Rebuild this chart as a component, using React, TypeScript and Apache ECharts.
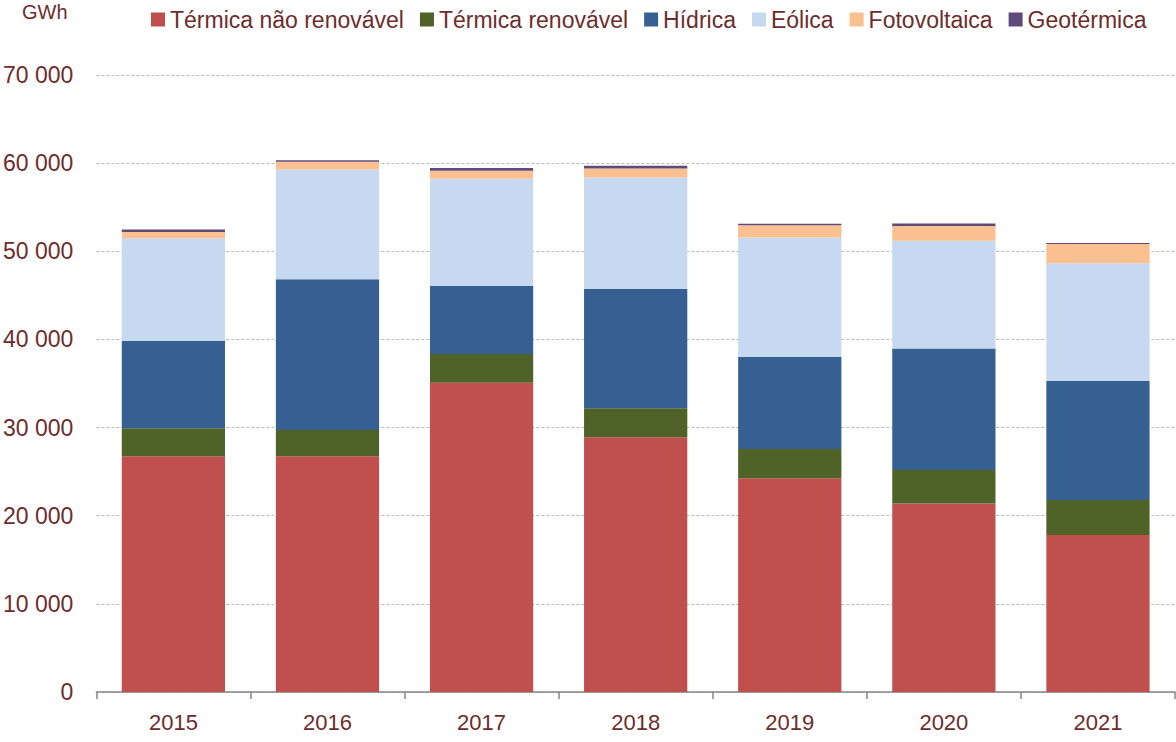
import React, { useEffect, useRef } from "react";
import * as echarts from "echarts";

const years = ["2015", "2016", "2017", "2018", "2019", "2020", "2021"];
const termicaNaoRenovavel = [26760, 26760, 35080, 28900, 24260, 21390, 17800];
const termicaRenovavel = [3160, 2970, 3280, 3290, 3320, 3790, 3970];
const hidrica = [9930, 17100, 7710, 13550, 10460, 13800, 13530];
const eolica = [11620, 12460, 12160, 12640, 13510, 12220, 13330];
const fotovoltaica = [710, 860, 910, 1020, 1390, 1660, 2200];
const geotermica = [300, 190, 300, 300, 190, 300, 120];
const yTicks = [0, 10000, 20000, 30000, 40000, 50000, 60000, 70000];

const seriesDefs = [
  { name: "Térmica não renovável", data: termicaNaoRenovavel, color: "#C0504D" },
  { name: "Térmica renovável", data: termicaRenovavel, color: "#4F6228" },
  { name: "Hídrica", data: hidrica, color: "#366092" },
  { name: "Eólica", data: eolica, color: "#C6D9F0" },
  { name: "Fotovoltaica", data: fotovoltaica, color: "#FAC090" },
  { name: "Geotérmica", data: geotermica, color: "#604A7B" },
];

const FONT = "'Liberation Sans', Arial, sans-serif";
const TEXT = "#6E2C2C";

const fmt = (v: number) =>
  String(v).replace(/\B(?=(\d{3})+(?!\d))/g, " ");

export default function App() {
  const ref = useRef<HTMLDivElement>(null);
  useEffect(() => {
    if (!ref.current) return;
    const chart = echarts.init(ref.current, null, { renderer: "svg" });
    chart.setOption({
      animation: false,
      textStyle: { fontFamily: FONT },
      graphic: [
        {
          type: "text",
          left: 22,
          top: 2,
          style: { text: "GWh", fontSize: 20, fill: TEXT, fontFamily: FONT },
        },
      ],
      legend: {
        left: 151,
        top: 8,
        padding: 0,
        itemWidth: 14,
        itemHeight: 14,
        itemGap: 16,
        icon: "rect",
        textStyle: { fontSize: 23, color: TEXT, fontFamily: FONT },
        data: seriesDefs.map((s) => s.name),
      },
      grid: { left: 95, right: 1, top: 75, bottom: 50, containLabel: false },
      xAxis: {
        type: "category",
        data: years,
        boundaryGap: true,
        axisLine: { show: true, lineStyle: { color: "#868686", width: 1.5 } },
        axisTick: { show: true, length: 7, lineStyle: { color: "#868686", width: 1.5 } },
        axisLabel: { fontSize: 22, color: TEXT, margin: 19, fontFamily: FONT },
      },
      yAxis: {
        type: "value",
        min: yTicks[0],
        max: yTicks[yTicks.length - 1],
        interval: 10000,
        axisLine: { show: false },
        axisTick: { show: false },
        axisLabel: {
          fontSize: 23,
          color: TEXT,
          margin: 23,
          fontFamily: FONT,
          formatter: (v: number) => fmt(v),
        },
        splitLine: { show: true, lineStyle: { color: "#B8B8B8", type: [3, 2], width: 1 } },
      },
      series: seriesDefs.map((s) => ({
        name: s.name,
        type: "bar",
        stack: "total",
        data: s.data,
        barCategoryGap: "33%",
        itemStyle: { color: s.color },
      })),
    });
    return () => chart.dispose();
  }, []);
  return (
    <div
      ref={ref}
      style={{ position: "absolute", left: 0, top: 0, width: 1176, height: 742 }}
    />
  );
}
